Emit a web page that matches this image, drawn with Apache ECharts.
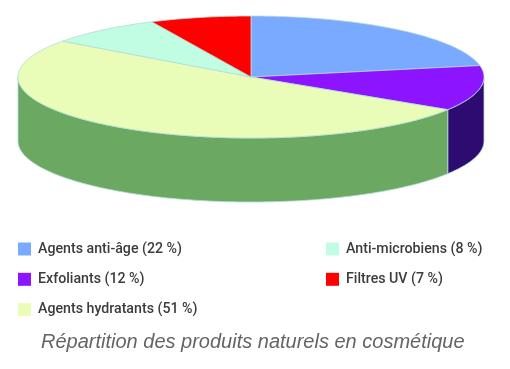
<!DOCTYPE html>
<html><head><meta charset="utf-8">
<style>html,body{margin:0;padding:0;background:#fff}#c{width:510px;height:369px;filter:blur(0.45px)}</style>
<script src="https://cdn.jsdelivr.net/npm/echarts@6/dist/echarts.min.js"></script>
</head><body><div id="c"></div>
<script>
const categories = ['Agents anti-âge','Exfoliants','Agents hydratants','Anti-microbiens','Filtres UV'];
const shares = [22,12,51,8,7];
const topColors = ['#7aaaff','#8c14ff','#e9fcb8','#c0fde3','#ff0000'];
const sideColors = ['#4a6fa8','#2e0b70','#6ba861','#8cc4ac','#b00000'];
const caption = 'Répartition des produits naturels en cosmétique';

const CX = 251, CY = 77, RX = 233, RY = 61, DEPTH = 64;
const edge = '#b4dcd6';
const total = shares.reduce((a,b)=>a+b,0);
const labels = categories.map((c,i)=>`${c} (${shares[i]} %)`);
const pt = (deg,dy)=>{const a=deg*Math.PI/180;return [CX+RX*Math.sin(a),CY-RY*Math.cos(a)+dy];};
const arc = (from,to,dy)=>{const n=Math.max(2,Math.ceil(Math.abs(to-from)));const p=[];for(let k=0;k<=n;k++)p.push(pt(from+(to-from)*k/n,dy));return p;};

const series = categories.map((name,i)=>{
  const before = shares.slice(0,i).reduce((a,b)=>a+b,0);
  return {
    type:'custom', name:labels[i], coordinateSystem:'none',
    itemStyle:{color:topColors[i]}, silent:true, animation:false,
    data:[[shares[i]]],
    renderItem:(params,api)=>{
      const start = before/total*360, end = start+api.value(0)/total*360;
      const children = [];
      const s = Math.max(start,90), e = Math.min(end,270);
      if(e>s){
        children.push({type:'polygon',z2:1,shape:{points:arc(s,e,0).concat(arc(e,s,DEPTH))},
          style:{fill:sideColors[i],stroke:edge,lineWidth:0.8}});
      }
      children.push({type:'polygon',z2:2,shape:{points:[[CX,CY]].concat(arc(start,end,0))},
        style:{fill:topColors[i],stroke:edge,lineWidth:0.8,lineJoin:'round'}});
      return {type:'group',children};
    }
  };
});
const legendBase = {
  orient:'vertical', icon:'rect', itemWidth:13, itemHeight:13, itemGap:16.3, selectedMode:false,
  padding:0, textStyle:{fontFamily:'Roboto',fontSize:14.2,fontWeight:500,color:'#3c3c3c',padding:[0,0,0,2]}
};
const chart = echarts.init(document.getElementById('c'),null,{renderer:'canvas'});
chart.setOption({
  backgroundColor:'#fff', animation:false,
  title:{text:caption,left:41,top:332,padding:0,
    textStyle:{fontFamily:'Liberation Sans',fontStyle:'italic',fontWeight:'normal',fontSize:20,color:'#646464'}},
  legend:[
    Object.assign({},legendBase,{left:18,top:242,data:labels.slice(0,3)}),
    Object.assign({},legendBase,{left:326,top:242,data:labels.slice(3)})
  ],
  series
});
</script></body></html>
